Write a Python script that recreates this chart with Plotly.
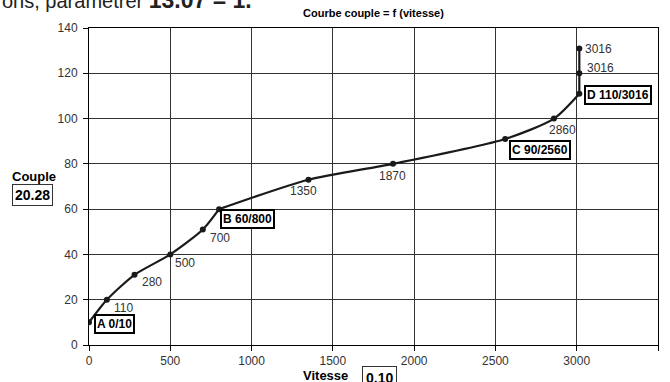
import plotly.graph_objects as go

# Courbe couple = f(vitesse)
vitesse = [0, 110, 280, 500, 700, 800, 1350, 1870, 2560, 2860, 3016, 3016, 3016]
couple = [10, 20, 31, 40, 51, 60, 73, 80, 91, 100, 111, 120, 131]
labels = ["A 0/10", "110", "280", "500", "700", "B 60/800", "1350", "1870",
          "C 90/2560", "2860", "D 110/3016", "3016", "3016"]
boxed = [True, False, False, False, False, True, False, False, True, False, True, False, False]

x_ticks = [0, 500, 1000, 1500, 2000, 2500, 3000, 3500]
y_ticks = [0, 20, 40, 60, 80, 100, 120, 140]

# label offsets in px (xshift, yshift, anchor)
offsets = [(5, -2, "left"), (5, -8, "left"), (5, -7, "left"), (3, -9, "left"),
           (5, -8, "left"), (1, -10, "left"), (-5, -11, "center"), (-1, -12, "center"),
           (4, -11, "left"), (9, -11, "center"), (5, -1, "left"), (6, 5, "left"),
           (4, -1, "left")]

FONT = "Liberation Sans, Arial, sans-serif"
ink = "#1a1a1a"

fig = go.Figure()

# curve drawn in pieces so the corners at B and D stay sharp
for a, b, shape in [(0, 6, "spline"), (5, 11, "spline"), (10, 13, "linear")]:
    fig.add_trace(go.Scatter(x=vitesse[a:b], y=couple[a:b], mode="lines",
                             line=dict(color=ink, width=2.2, shape=shape, smoothing=0.7),
                             hoverinfo="skip", showlegend=False))

fig.add_trace(go.Scatter(x=vitesse, y=couple, mode="markers",
                         marker=dict(color=ink, size=6), showlegend=False))

annotations = []
for xv, yv, lab, bx, (dx, dy, anc) in zip(vitesse, couple, labels, boxed, offsets):
    if bx:
        annotations.append(dict(x=xv, y=yv, text="<b>" + lab + "</b>", showarrow=False,
                                xanchor=anc, yanchor="middle", xshift=dx, yshift=dy,
                                font=dict(family=FONT, size=12, color="black"),
                                bordercolor="black", borderwidth=2, borderpad=1,
                                bgcolor="white"))
    else:
        annotations.append(dict(x=xv, y=yv, text=lab, showarrow=False,
                                xanchor=anc, yanchor="middle", xshift=dx, yshift=dy,
                                font=dict(family=FONT, size=12, color="#333")))

# titles / axis labels
annotations += [
    dict(x=0.5, y=1.0, xref="paper", yref="paper", yanchor="bottom", yshift=7,
         text="<b>Courbe couple = f (vitesse)</b>", showarrow=False,
         font=dict(family=FONT, size=11, color="black")),
    dict(x=-0.138, y=0.53, xref="paper", yref="paper", xanchor="left", yanchor="middle",
         text="<b>Couple</b>", showarrow=False,
         font=dict(family=FONT, size=13, color="black")),
    dict(x=-0.135, y=0.474, xref="paper", yref="paper", xanchor="left", yanchor="middle",
         text="<b>20.28</b>", showarrow=False, bordercolor="#333", borderwidth=1,
         borderpad=2, font=dict(family=FONT, size=14, color="black")),
    dict(x=0.415, y=-0.095, xref="paper", yref="paper", xanchor="center", yanchor="middle",
         text="<b>Vitesse</b>", showarrow=False,
         font=dict(family=FONT, size=13, color="black")),
    dict(x=0.51, y=-0.104, xref="paper", yref="paper", xanchor="center", yanchor="middle",
         text="<b>0.10</b>", showarrow=False, bordercolor="#333", borderwidth=1,
         borderpad=3, font=dict(family=FONT, size=14, color="black")),
    # partial line of the surrounding document, cut by the top edge
    dict(x=-0.156, y=1.04, xref="paper", yref="paper", xanchor="left", yanchor="bottom",
         text="ons, paramétrer <b><span style='font-size:23px'>13.07 = 1.</span></b>",
         showarrow=False, font=dict(family=FONT, size=20, color="#222")),
]

axis_common = dict(showline=True, linecolor="black", linewidth=1, mirror=True,
                   showgrid=True, gridcolor="#333", gridwidth=1, zeroline=False,
                   ticks="outside", ticklen=5, tickcolor="black",
                   tickfont=dict(family=FONT, size=12, color="#333"))

fig.update_layout(
    width=670, height=382,
    margin=dict(l=89, r=12, t=28, b=37, autoexpand=False),
    paper_bgcolor="white", plot_bgcolor="white",
    xaxis=dict(range=[0, 3500], tickvals=x_ticks, **axis_common),
    yaxis=dict(range=[0, 140], tickvals=y_ticks, ticklabelstandoff=3, **axis_common),
    annotations=annotations,
    showlegend=False,
)

fig.write_html("out.html", config={"displayModeBar": False},
               post_script="document.body.style.margin='0';")
